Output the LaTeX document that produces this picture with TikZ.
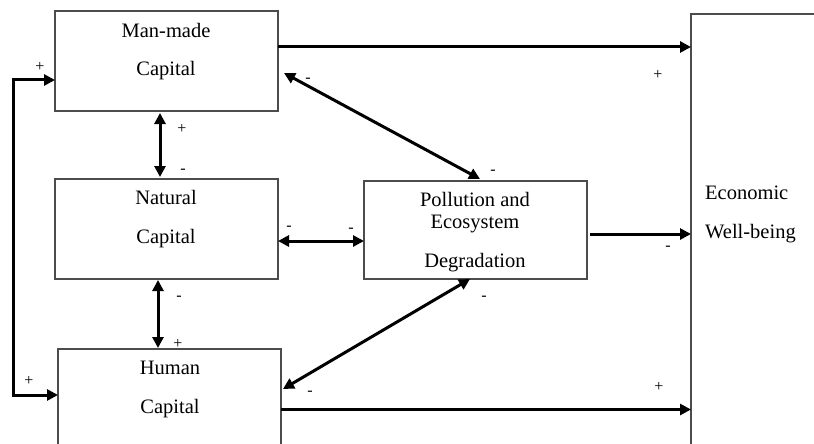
\documentclass[tikz,border=0pt]{standalone}
\usepackage{fontspec}
\setmainfont{Liberation Serif}
\usetikzlibrary{arrows.meta}
\begin{document}
\begin{tikzpicture}[x=1pt,y=-1pt,
  box/.style={draw=black!70,line width=1.1pt,inner sep=0pt,outer sep=0pt},
  lbl/.style={font=\fontsize{20.5}{22}\selectfont,inner sep=0pt,anchor=mid},
  sgn/.style={font=\fontsize{16}{18}\selectfont,inner sep=0pt,anchor=mid},
  tip/.tip={Triangle[length=11pt,width=11pt]},
  conn/.style={line width=3pt,-tip,line join=miter},
  bconn/.style={line width=3pt,tip-tip,line join=miter}]
\useasboundingbox (0,0) rectangle (814,444);
\clip (0,0) rectangle (814,444);
% boxes
\node[box,anchor=north west,minimum width=223pt,minimum height=100pt] (mm) at (55,11) {};
\node[box,anchor=north west,minimum width=223pt,minimum height=100pt] (nat) at (55,179) {};
\node[box,anchor=north west,minimum width=223pt,minimum height=121pt] (hum) at (58,349) {};
\node[box,anchor=north west,minimum width=223pt,minimum height=98pt] (pol) at (364,181) {};
\node[box,anchor=north west,minimum width=139pt,minimum height=456pt] (eco) at (691,14) {};
% texts
\node[lbl] (t1) at (166,35) {Man-made};
\node[lbl] (t2) at (166,73) {Capital};
\node[lbl] (t3) at (166,202) {Natural};
\node[lbl] (t4) at (166,241) {Capital};
\node[lbl] (t5) at (170,372) {Human};
\node[lbl] (t6) at (170,411) {Capital};
\node[lbl] (t7) at (475,204) {Pollution and};
\node[lbl] (t8) at (475,226) {Ecosystem};
\node[lbl] (t9) at (475,265) {Degradation};
\node[lbl,anchor=mid west] (t10) at (705,197) {Economic};
\node[lbl,anchor=mid west] (t11) at (705,236) {Well-being};
% connectors
\coordinate (c1) at (13,80);
\coordinate (c2) at (13,395);
\draw[bconn] ([yshift=-19pt]mm.west) -- (c1) -- (c2) -- ([yshift=14.5pt]hum.west);
\draw[conn] ([yshift=14pt]mm.east) -- ([yshift=14pt]mm.east -| eco.west);
\draw[conn] ([xshift=3pt,yshift=-4pt]pol.east) -- ([yshift=-4pt]pol.east -| eco.west);
\draw[conn] (hum.east) -- (hum.east -| eco.west);
\draw[bconn,shorten <=2pt,shorten >=2pt] ([xshift=-6.5pt]mm.south) -- ([xshift=-6.5pt]nat.north);
\draw[bconn,shorten <=1pt,shorten >=1pt] ([xshift=-8.5pt]nat.south) -- ([xshift=-8.5pt]nat.south |- hum.north);
\draw[bconn] ([yshift=-12pt]nat.east) -- ([yshift=-12pt]nat.east -| pol.west);
\draw[bconn] ([xshift=6pt,yshift=-12pt]mm.east) -- ([xshift=4.5pt,yshift=2pt]pol.north);
\draw[bconn] ([xshift=-5.5pt]pol.south) -- ([xshift=2pt,yshift=20.5pt]hum.east);
% signs
\node[sgn] (s1) at (40,69) {+};
\node[sgn] (s2) at (29,383) {+};
\node[sgn] (s3) at (182,131) {+};
\node[sgn] (s4) at (183,171) {-};
\node[sgn] (s5) at (179,298) {-};
\node[sgn] (s6) at (178,346) {+};
\node[sgn] (s7) at (289,228) {-};
\node[sgn] (s8) at (351,230) {-};
\node[sgn] (s9) at (308,80) {-};
\node[sgn] (s10) at (493,172) {-};
\node[sgn] (s11) at (484,298) {-};
\node[sgn] (s12) at (310,393) {-};
\node[sgn] (s13) at (658,77) {+};
\node[sgn] (s14) at (668,248) {-};
\node[sgn] (s15) at (659,389) {+};
\end{tikzpicture}
\end{document}
